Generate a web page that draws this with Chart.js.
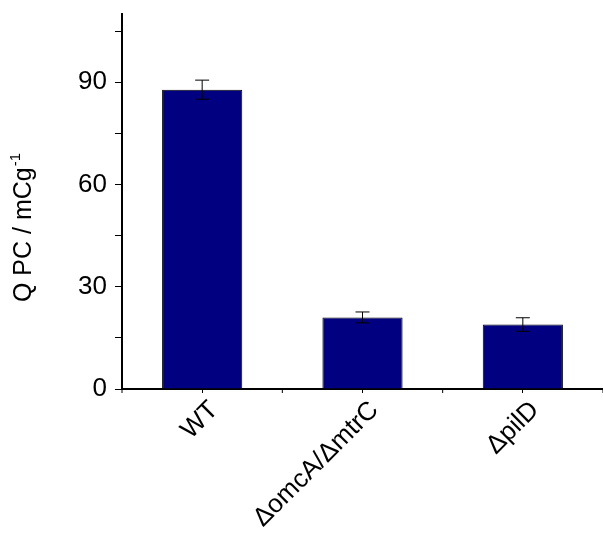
<!DOCTYPE html>
<html>
<head>
<meta charset="utf-8">
<script src="https://cdn.jsdelivr.net/npm/chart.js@4"></script>
<style>
  html, body { margin: 0; padding: 0; background: #fff; }
  #wrap { width: 603px; height: 545px; }
</style>
</head>
<body>
<div id="wrap"><canvas id="qpcChart" width="603" height="545"></canvas></div>
<script>
// data
var strains = ['WT', 'ΔomcA/ΔmtrC', 'ΔpilD'];
var qpc = [87.8, 21.0, 18.9];
var qpcErr = [2.8, 1.6, 2.0];
var yTicks = [0, 30, 60, 90];

// error bars (drawn from the y scale)
var errorBars = {
    id: 'errorBars',
    afterDatasetsDraw: function(chart) {
        var ctx = chart.ctx;
        var y = chart.scales.y;
        var meta = chart.getDatasetMeta(0);
        ctx.save();
        ctx.strokeStyle = '#000';
        ctx.lineWidth = 1;
        for (var i = 0; i < qpc.length; i++) {
            var x = meta.data[i].x;
            var top = y.getPixelForValue(qpc[i] + qpcErr[i]);
            var bot = y.getPixelForValue(qpc[i] - qpcErr[i]);
            ctx.beginPath();
            ctx.moveTo(x, top); ctx.lineTo(x, bot);
            ctx.moveTo(x - 7, top); ctx.lineTo(x + 7, top);
            ctx.moveTo(x - 7, bot); ctx.lineTo(x + 7, bot);
            ctx.stroke();
        }
        ctx.restore();
    }
};

// y title with superscript, plus the small ticks between categories
var extras = {
    id: 'extras',
    afterDraw: function(chart) {
        var ctx = chart.ctx;
        var area = chart.chartArea;
        var xs = chart.scales.x;
        ctx.save();
        ctx.strokeStyle = '#000';
        ctx.lineWidth = 1;
        for (var i = 0; i <= strains.length; i++) {
            var px = xs.getPixelForValue(i - 0.5);
            ctx.beginPath();
            ctx.moveTo(px, area.bottom);
            ctx.lineTo(px, area.bottom + 4);
            ctx.stroke();
        }
        ctx.restore();

        ctx.save();
        ctx.translate(31, 228);
        ctx.rotate(-Math.PI / 2);
        ctx.fillStyle = '#000';
        ctx.textBaseline = 'alphabetic';
        var main = 'Q PC / mCg';
        ctx.font = '25px "Liberation Sans", Arial, sans-serif';
        var w1 = ctx.measureText(main).width;
        ctx.font = '15px "Liberation Sans", Arial, sans-serif';
        var w2 = ctx.measureText('-1').width;
        var start = -(w1 + w2) / 2;
        ctx.font = '25px "Liberation Sans", Arial, sans-serif';
        ctx.fillText(main, start, 0);
        ctx.font = '15px "Liberation Sans", Arial, sans-serif';
        ctx.fillText('-1', start + w1 + 1, -11);
        ctx.restore();
    }
};

var ctx = document.getElementById('qpcChart').getContext('2d');
var chart = new Chart(ctx, {
    type: 'bar',
    data: {
        labels: strains,
        datasets: [{
            label: 'QPC',
            data: qpc,
            backgroundColor: '#000080',
            borderColor: '#000',
            borderWidth: 1,
            barPercentage: 0.5,
            categoryPercentage: 1
        }]
    },
    options: {
        responsive: false,
        animation: false,
        layout: { padding: { top: 14, left: 0, right: 0, bottom: 0 } },
        plugins: {
            legend: { display: false },
            tooltip: { enabled: false }
        },
        scales: {
            x: {
                grid: { display: true, drawOnChartArea: false, tickLength: 4, color: '#000', offset: false },
                border: { color: '#000', width: 2 },
                ticks: {
                    color: '#000',
                    font: { family: '"Liberation Sans", Arial, sans-serif', size: 26 },
                    minRotation: 45,
                    maxRotation: 45,
                    padding: 2,
                    labelOffset: 12
                },
                afterFit: function(scale) {
                    scale.height = 156;
                    scale.paddingLeft = 0;
                    scale.paddingRight = 0;
                }
            },
            y: {
                min: 0,
                max: 110,
                grid: { display: true, drawOnChartArea: false, tickLength: 7, color: '#000' },
                border: { color: '#000', width: 2 },
                ticks: {
                    stepSize: 15,
                    includeBounds: false,
                    color: '#000',
                    padding: 8,
                    font: { family: '"Liberation Sans", Arial, sans-serif', size: 26 },
                    callback: function(v) { return yTicks.indexOf(v) >= 0 ? v : ''; }
                },
                afterFit: function(scale) {
                    scale.width = 122;
                    scale.paddingTop = 0;
                    scale.paddingBottom = 0;
                }
            }
        }
    },
    plugins: [errorBars, extras]
});
</script>
</body>
</html>
